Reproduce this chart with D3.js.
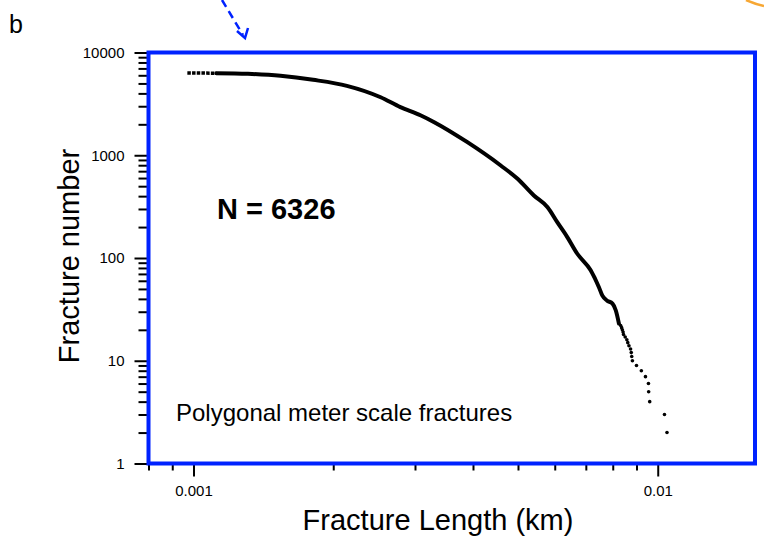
<!DOCTYPE html>
<html>
<head>
<meta charset="utf-8">
<script src="https://cdn.jsdelivr.net/npm/d3@7"></script>
<style>
  body { margin: 0; background: #fff; }
  svg text { font-family: "Liberation Sans", Arial, Helvetica, sans-serif; }
</style>
</head>
<body>
<div id="chart"></div>
<script>
// DATA
const curveLength = [0.00097, 0.00112, 0.00131, 0.00154, 0.00181, 0.00214, 0.00253, 0.00279,
  0.00309, 0.00330, 0.00389, 0.00459, 0.00499, 0.00541, 0.00579, 0.00608, 0.00639, 0.00671,
  0.00717, 0.00747, 0.00760, 0.00777, 0.00799, 0.00812, 0.00825]
const curveCount = [6326, 6290, 6200, 5930, 5420, 4740, 3670, 2940,
  2440, 2100, 1340, 795, 590, 406, 312, 222, 159, 110,
  76, 52, 43, 38.6, 36, 31, 23]

const tailLength = [0.00832, 0.00836, 0.00839, 0.00842, 0.00844, 0.00851, 0.00858, 0.00862,
  0.00867, 0.00874, 0.00877, 0.00879, 0.00882, 0.00900, 0.00922, 0.00941, 0.00955, 0.00956,
  0.00961, 0.01034, 0.01047]
const tailCount = [22, 21, 20, 19, 18, 17, 16, 15, 14, 13, 12, 11, 10, 9, 8, 7, 6, 5, 4, 3, 2]

const yTicks = [1, 10, 100, 1000, 10000]
const xTicks = [0.001, 0.01]
const xDomain = [0.0008, 0.0162]
const yDomain = [1, 10000]

const width = 764, height = 552
const blue = "#0022ff"

const svg = d3.select("#chart").append("svg")
    .attr("width", width)
    .attr("height", height)

// SCALES
const xScale = d3.scaleLog().domain(xDomain).range([148.5, 755])
const yScale = d3.scaleLog().domain(yDomain).range([463.5, 52.5])

// minor ticks: 2..9 of every decade inside the domain
const xMinor = xScale.ticks().filter(d => xDomain[0] <= d && d <= xDomain[1] && !xTicks.some(t => Math.abs(t - d) < 1e-9))
const yMinor = yScale.ticks().filter(d => !yTicks.includes(d))

// AXES
const yAxisMajor = d3.axisLeft(yScale).tickValues(yTicks).tickSize(14).tickSizeOuter(0)
    .tickPadding(10).tickFormat(d3.format("d"))
const yAxisMinor = d3.axisLeft(yScale).tickValues(yMinor).tickSize(10).tickFormat("")
const xAxisMajor = d3.axisBottom(xScale).tickValues(xTicks).tickSize(13).tickSizeOuter(0)
    .tickPadding(9).tickFormat(d => d === 0.001 ? "0.001" : "0.01")
const xAxisMinor = d3.axisBottom(xScale).tickValues(xMinor).tickSize(7).tickFormat("")

const axes = svg.append("g")
axes.append("g").attr("transform", "translate(148.5,0)").call(yAxisMinor)
axes.append("g").attr("transform", "translate(148.5,0)").call(yAxisMajor)
axes.append("g").attr("transform", "translate(0,463.5)").call(xAxisMinor)
axes.append("g").attr("transform", "translate(0,463.5)").call(xAxisMajor)
axes.selectAll(".domain").remove()
axes.selectAll(".tick line").attr("stroke", "#000").attr("stroke-width", 2)
axes.selectAll(".tick text")
    .attr("font-size", 15)
    .attr("fill", "#000")
    .style("font-family", "'Liberation Sans', Arial, sans-serif")

// PLOT FRAME
svg.append("rect")
    .attr("x", xScale(xDomain[0]))
    .attr("y", yScale(yDomain[1]))
    .attr("width", xScale(xDomain[1]) - xScale(xDomain[0]))
    .attr("height", yScale(yDomain[0]) - yScale(yDomain[1]))
    .attr("fill", "none")
    .attr("stroke", blue)
    .attr("stroke-width", 4)

// CURVE
const pts = curveLength.map((l, i) => [l, curveCount[i]])
const line = d3.line().x(d => xScale(d[0])).y(d => yScale(d[1])).curve(d3.curveMonotoneX)

svg.append("path")
    .datum(pts.slice(0, 2))
    .attr("d", line)
    .attr("fill", "none")
    .attr("stroke", "#000")
    .attr("stroke-width", 3.5)
    .attr("stroke-dasharray", "3.5,1.2")

svg.append("path")
    .datum(pts.slice(1))
    .attr("d", line)
    .attr("fill", "none")
    .attr("stroke", "#000")
    .attr("stroke-width", 4)
    .attr("stroke-linejoin", "round")
    .attr("stroke-linecap", "round")

svg.append("g")
    .selectAll("circle")
    .data(tailLength.map((l, i) => [l, tailCount[i]]))
    .join("circle")
    .attr("cx", d => xScale(d[0]))
    .attr("cy", d => yScale(d[1]))
    .attr("r", 1.8)
    .attr("fill", "#000")

// TEXT
svg.append("text")
    .attr("x", 217).attr("y", 219)
    .attr("font-size", 29).attr("font-weight", "bold")
    .text("N = 6326")

svg.append("text")
    .attr("x", 176).attr("y", 421)
    .attr("font-size", 24)
    .text("Polygonal meter scale fractures")

svg.append("text")
    .attr("x", 438).attr("y", 530)
    .attr("text-anchor", "middle")
    .attr("font-size", 29)
    .text("Fracture Length (km)")

svg.append("text")
    .attr("transform", "translate(79,256) rotate(-90)")
    .attr("text-anchor", "middle")
    .attr("font-size", 29)
    .text("Fracture number")

svg.append("text")
    .attr("x", 9).attr("y", 33)
    .attr("font-size", 25)
    .text("b")

// ANNOTATIONS (pieces of the neighbouring figure)
svg.append("path")
    .attr("d", "M222,0 L243,35")
    .attr("stroke", blue).attr("stroke-width", 2.5)
    .attr("stroke-dasharray", "8,5").attr("fill", "none")
svg.append("path")
    .attr("d", "M237,31 L245,38 L248,28")
    .attr("stroke", blue).attr("stroke-width", 2.5)
    .attr("fill", "none")

svg.append("path")
    .attr("d", "M746,0 Q755,4 764,6")
    .attr("stroke", "#f7a733").attr("stroke-width", 2.5)
    .attr("fill", "none")
</script>
</body>
</html>
